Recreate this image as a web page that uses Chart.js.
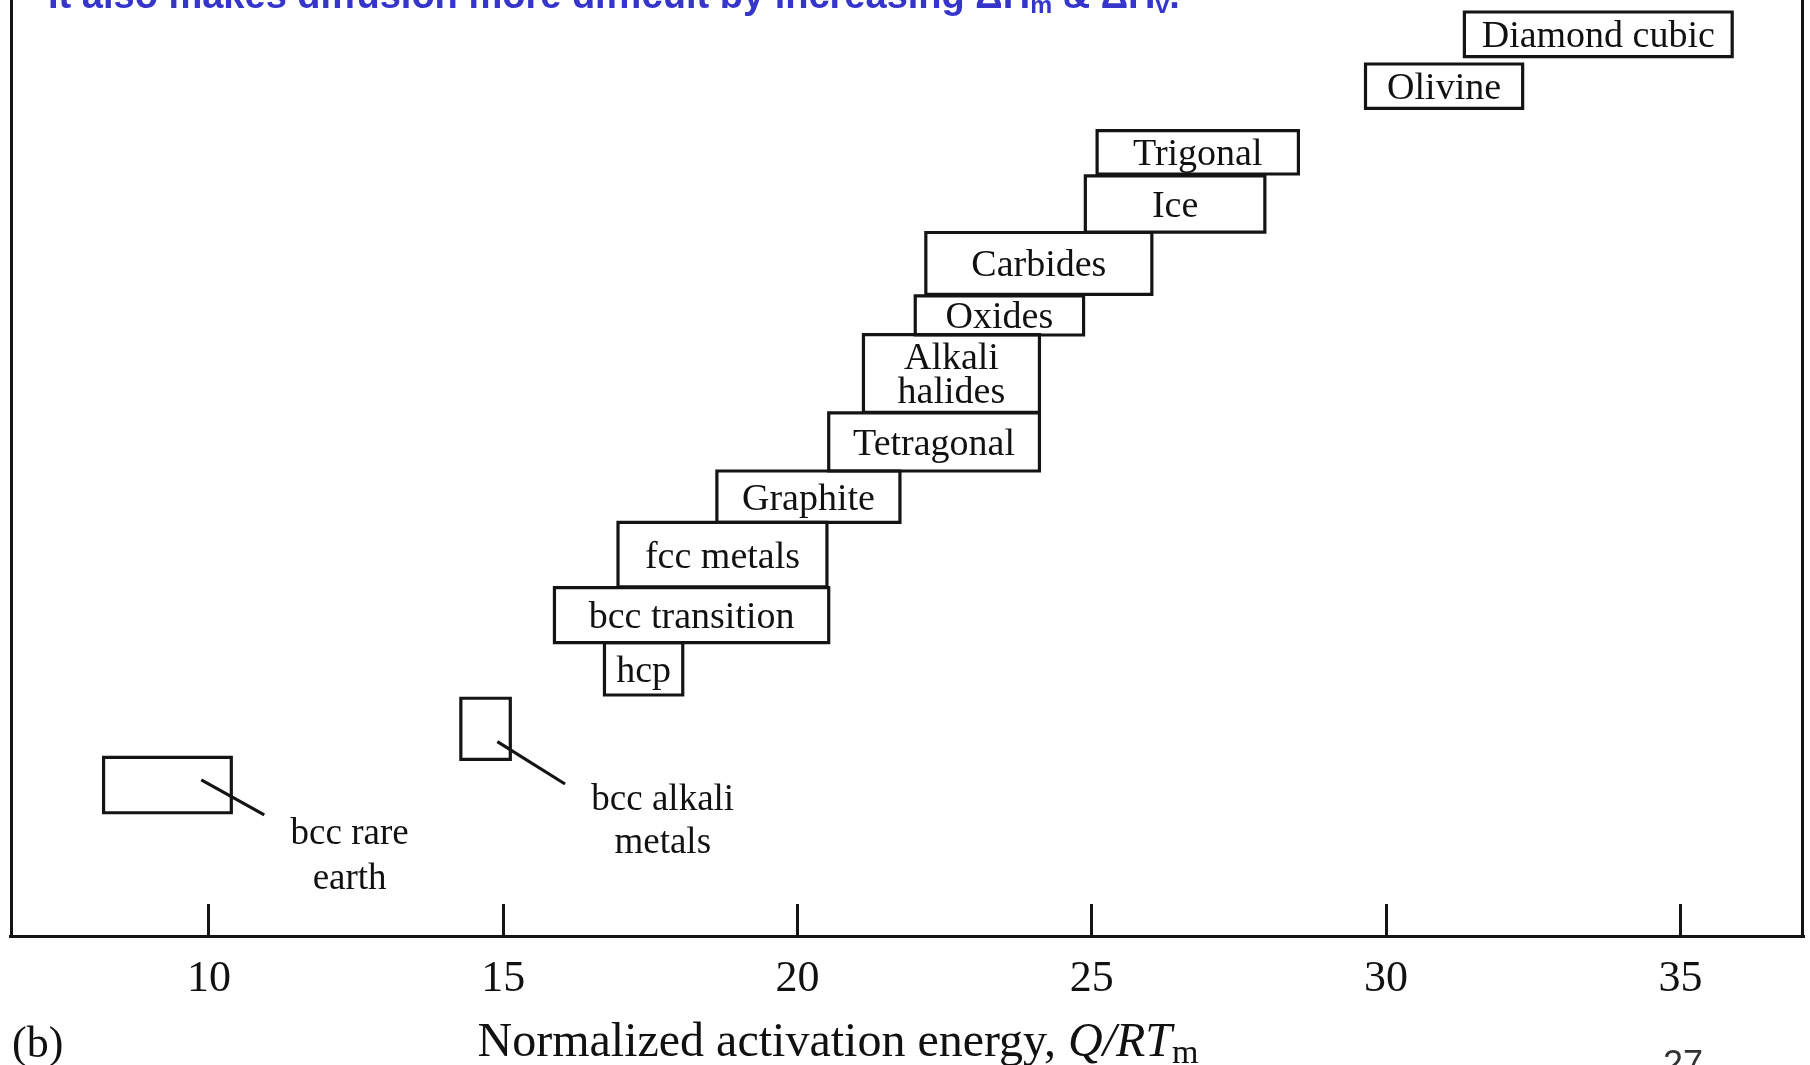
<!DOCTYPE html>
<html><head><meta charset="utf-8">
<script src="https://cdn.jsdelivr.net/npm/chart.js@4"></script>
<style>html,body{margin:0;padding:0;background:#fff;overflow:hidden}canvas{display:block}</style>
</head><body>
<canvas id="c" width="1810" height="1065"></canvas>
<script>
// ---- data ----
const categories = ['Diamond cubic','Olivine','Trigonal','Ice','Carbides','Oxides','Alkali halides','Tetragonal','Graphite','fcc metals','bcc transition','hcp','bcc alkali metals','bcc rare earth'];
const qStart = [31.33, 29.65, 25.09, 24.89, 22.18, 22.00, 21.12, 20.53, 18.63, 16.95, 15.87, 16.72, 14.28, 8.21];
const qEnd   = [35.88, 32.32, 28.51, 27.94, 26.02, 24.86, 24.11, 24.11, 21.74, 20.50, 20.53, 18.05, 15.12, 10.38];
const yLow   = [93.94, 88.43, 81.41, 75.21, 68.54, 64.21, 55.95, 49.68, 44.20, 37.29, 31.35, 25.75, 18.88, 13.17];
const yHigh  = [98.72, 93.16, 86.04, 81.20, 75.16, 68.38, 64.26, 55.88, 49.68, 44.20, 37.23, 31.35, 25.40, 19.09];
const boxText = [['Diamond cubic'],['Olivine'],['Trigonal'],['Ice'],['Carbides'],['Oxides'],['Alkali','halides'],['Tetragonal'],['Graphite'],['fcc metals'],['bcc transition'],['hcp'],[],[]];
// callouts for the two small boxes
const calloutText = [['bcc alkali','metals'], ['bcc rare','earth']];
const calloutQ = [17.71, 12.39];
const calloutY = [[14.50, 9.86], [10.82, 6.01]];
const leaderQ1 = [14.90, 9.87], leaderY1 = [20.76, 16.67];
const leaderQ2 = [16.05, 10.94], leaderY2 = [16.24, 12.93];
// axis
const tickValues = [10, 15, 20, 25, 30, 35];
const tickLabels = ['10', '15', '20', '25', '30', '35'];
const xMin = 6.62, xMax = 37.10, yMin = 0, yMax = 100;
const axisTitle = ['Normalized activation energy, ', 'Q/RT', 'm'];
const headerText = ['It also makes diffusion more difficult by increasing \u0394H', 'm', ' & \u0394H', 'v', '.'];

const INK = '#141414';
const datasets = [];
categories.forEach((c, i) => {
  datasets.push({
    label: c,
    data: [{x:qStart[i],y:yLow[i]},{x:qEnd[i],y:yLow[i]},{x:qEnd[i],y:yHigh[i]},{x:qStart[i],y:yHigh[i]},{x:qStart[i],y:yLow[i]}],
    showLine: true, borderColor: INK, borderWidth: 3.2, pointRadius: 0, fill: false, tension: 0,
    borderJoinStyle: 'miter', borderCapStyle: 'square'
  });
});
leaderQ1.forEach((q, i) => {
  datasets.push({
    label: 'leader ' + i,
    data: [{x:leaderQ1[i], y:leaderY1[i]}, {x:leaderQ2[i], y:leaderY2[i]}],
    showLine: true, borderColor: INK, borderWidth: 3.2, pointRadius: 0, fill: false
  });
});

const overlay = {
  id: 'overlay',
  afterDatasetsDraw(chart) {
    const {ctx, chartArea: a, scales: {x, y}} = chart;
    ctx.save();
    // frame
    ctx.strokeStyle = INK; ctx.lineWidth = 3;
    ctx.beginPath();
    ctx.moveTo(a.left + 1.5, 0); ctx.lineTo(a.left + 1.5, a.bottom);
    ctx.moveTo(a.right - 1.5, 0); ctx.lineTo(a.right - 1.5, a.bottom);
    ctx.stroke();
    // box labels
    ctx.fillStyle = '#111';
    ctx.font = '38px "Liberation Serif"';
    ctx.textAlign = 'center'; ctx.textBaseline = 'middle';
    categories.forEach((c, i) => {
      const lines = boxText[i]; if (!lines.length) return;
      const cx = (x.getPixelForValue(qStart[i]) + x.getPixelForValue(qEnd[i])) / 2;
      const cy = (y.getPixelForValue(yLow[i]) + y.getPixelForValue(yHigh[i])) / 2 + 3;
      lines.forEach((t, k) => ctx.fillText(t, cx, cy + (k - (lines.length - 1) / 2) * 34));
    });
    // callouts
    ctx.font = '37px "Liberation Serif"';
    calloutText.forEach((lines, i) => {
      lines.forEach((t, k) => ctx.fillText(t, x.getPixelForValue(calloutQ[i]), y.getPixelForValue(calloutY[i][k])));
    });
    // axis title
    ctx.textAlign = 'left'; ctx.textBaseline = 'alphabetic';
    const f1 = '48px "Liberation Serif"', f2 = 'italic 48px "Liberation Serif"', f3 = '34px "Liberation Serif"';
    ctx.font = f1; const w1 = ctx.measureText(axisTitle[0]).width;
    ctx.font = f2; const w2 = ctx.measureText(axisTitle[1]).width;
    ctx.font = f3; const w3 = ctx.measureText(axisTitle[2]).width;
    let tx = 838 - (w1 + w2 + w3) / 2;
    ctx.font = f1; ctx.fillText(axisTitle[0], tx, 1056); tx += w1;
    ctx.font = f2; ctx.fillText(axisTitle[1], tx, 1056); tx += w2;
    ctx.font = f3; ctx.fillText(axisTitle[2], tx, 1063);
    // (b)
    ctx.font = '44px "Liberation Serif"';
    ctx.fillText('(b)', 12, 1057);
    // page number
    ctx.fillStyle = '#333'; ctx.font = '36px "Liberation Sans"'; ctx.textAlign = 'center';
    ctx.fillText('27', 1683, 1076);
    // header
    ctx.fillStyle = '#3535cc'; ctx.textAlign = 'left';
    const measure = (s) => {
      let w = 0;
      headerText.forEach((t, k) => { ctx.font = 'bold ' + (k % 2 ? s * 0.65 : s) + 'px "Liberation Sans"'; w += ctx.measureText(t).width; });
      return w;
    };
    let s = 32; s = s * 1132 / measure(s);
    let hx = 48;
    headerText.forEach((t, k) => {
      const sub = k % 2 === 1;
      ctx.font = 'bold ' + (sub ? s * 0.65 : s) + 'px "Liberation Sans"';
      ctx.fillText(t, hx, sub ? 13 : 8);
      hx += ctx.measureText(t).width;
    });
    ctx.restore();
  }
};

new Chart(document.getElementById('c'), {
  type: 'scatter',
  data: { datasets },
  options: {
    responsive: false, animation: false, events: [],
    layout: { padding: { left: 10, right: 6, top: 0, bottom: 0 } },
    plugins: { legend: { display: false }, tooltip: { enabled: false } },
    scales: {
      x: {
        type: 'linear', min: xMin, max: xMax, position: 'bottom',
        afterBuildTicks: (s) => { s.ticks = tickValues.map(v => ({ value: v })); },
        afterFit: (s) => { s.height = 129; },
        grid: { display: true, drawOnChartArea: false, drawTicks: true, tickLength: -32, tickWidth: 3, tickColor: INK, color: INK },
        border: { display: true, color: INK, width: 3 },
        ticks: {
          padding: 49, color: '#111',
          font: { family: '"Liberation Serif"', size: 44 },
          callback: (v) => { const i = tickValues.indexOf(v); return i >= 0 ? tickLabels[i] : ''; }
        }
      },
      y: { type: 'linear', min: yMin, max: yMax, display: false }
    }
  },
  plugins: [overlay]
});
</script>
</body></html>
